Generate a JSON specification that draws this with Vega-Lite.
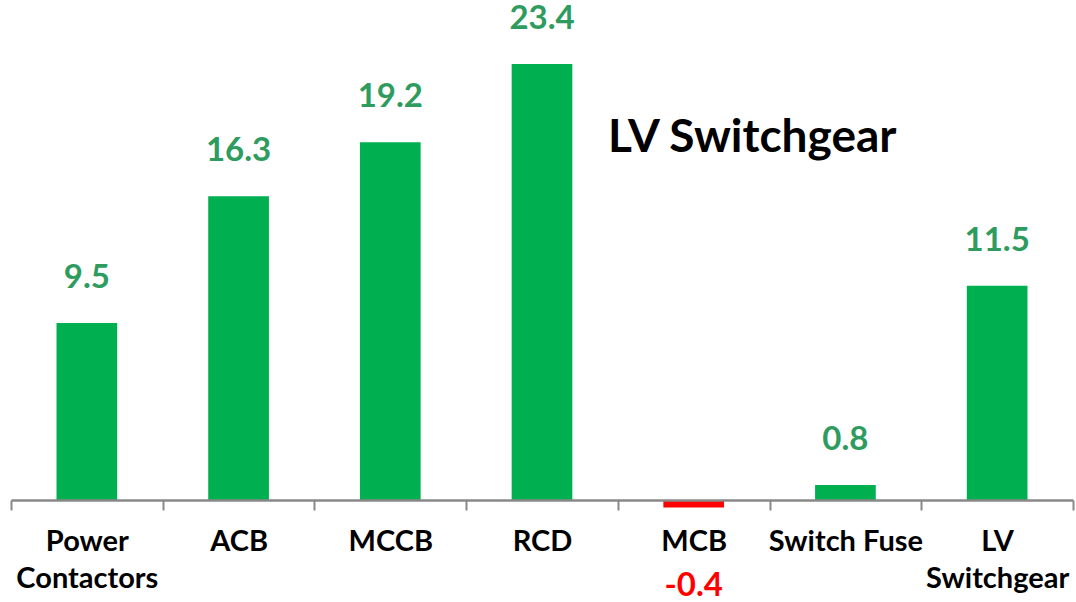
{
  "$schema": "https://vega.github.io/schema/vega-lite/v6.json",
  "width": 1062,
  "height": 500,
  "autosize": "none",
  "padding": {"left": 11, "right": 3, "top": 0, "bottom": 102},
  "background": "white",
  "config": {"view": {"stroke": null}},
  "title": {
    "text": "LV Switchgear",
    "anchor": "start",
    "frame": "group",
    "offset": 0,
    "dx": 597,
    "dy": 198,
    "baseline": "alphabetic",
    "font": "Lato",
    "fontSize": 46,
    "fontWeight": "bold",
    "color": "#000000"
  },
  "data": {
    "values": [
      {"category": "Power Contactors", "value": 9.5},
      {"category": "ACB", "value": 16.3},
      {"category": "MCCB", "value": 19.2},
      {"category": "RCD", "value": 23.4},
      {"category": "MCB", "value": -0.4},
      {"category": "Switch Fuse", "value": 0.8},
      {"category": "LV Switchgear", "value": 11.5}
    ]
  },
  "transform": [{"calculate": "'' + datum.value", "as": "label"}],
  "encoding": {
    "x": {
      "field": "category",
      "type": "nominal",
      "sort": null,
      "scale": {"padding": 0},
      "axis": {
        "title": null,
        "zindex": 1,
        "labelAngle": 0,
        "labelFont": "Lato",
        "labelFontSize": 29,
        "labelFontWeight": "bold",
        "labelColor": "#000000",
        "labelBaseline": "alphabetic",
        "labelPadding": 40,
        "labelLineHeight": 37,
        "labelLimit": 0,
        "labelExpr": "datum.label == 'Power Contactors' ? ['Power', 'Contactors'] : datum.label == 'LV Switchgear' ? ['LV', 'Switchgear'] : datum.label",
        "domainColor": "#898989",
        "domainWidth": 2.5,
        "tickColor": "#898989",
        "tickWidth": 2,
        "tickSize": 10,
        "tickBand": "extent"
      }
    },
    "y": {
      "field": "value",
      "type": "quantitative",
      "scale": {"domain": [0, 26.84], "nice": false, "zero": false},
      "axis": null
    }
  },
  "layer": [
    {
      "mark": {"type": "bar", "width": {"band": 0.4}},
      "encoding": {
        "color": {
          "condition": {"test": "datum.value < 0", "value": "#ff0000"},
          "value": "#00b050"
        }
      }
    },
    {
      "transform": [{"filter": "datum.value >= 0"}],
      "mark": {
        "type": "text",
        "dy": -35,
        "baseline": "alphabetic",
        "align": "center",
        "font": "Lato",
        "fontSize": 33,
        "fontWeight": "bold",
        "color": "#2e9b5f"
      },
      "encoding": {"text": {"field": "label", "type": "nominal"}}
    },
    {
      "transform": [{"filter": "datum.value < 0"}],
      "mark": {
        "type": "text",
        "dy": 89,
        "baseline": "alphabetic",
        "align": "center",
        "font": "Lato",
        "fontSize": 33,
        "fontWeight": "bold",
        "color": "#ff0000"
      },
      "encoding": {"text": {"field": "label", "type": "nominal"}}
    }
  ]
}
